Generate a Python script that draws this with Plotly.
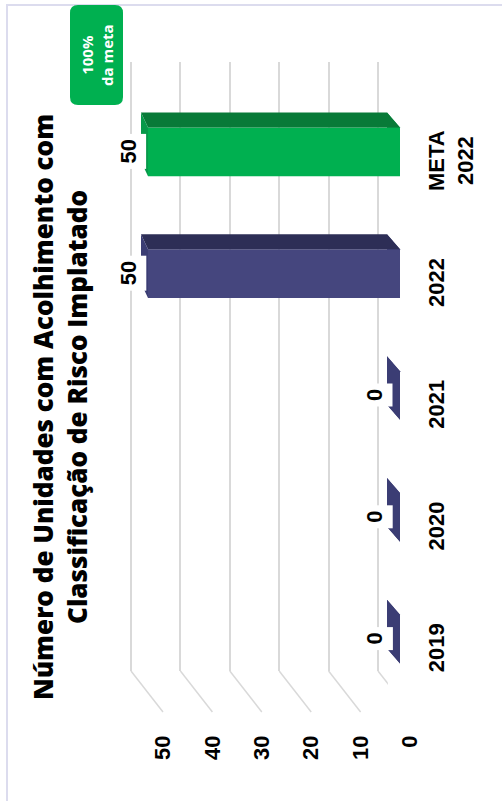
import plotly.graph_objects as go

# ---- data -------------------------------------------------------------
categories = ["2019", "2020", "2021", "2022", "META<br>2022"]
values = [0, 0, 0, 50, 50]
value_ticks = [0, 10, 20, 30, 40, 50]
title_lines = ["Número de Unidades com Acolhimento com",
               "Classificação de Risco Implatado"]
badge_lines = ["100%", "da meta"]

# ---- styling ----------------------------------------------------------
NAVY = {"front": "#45467E", "top": "#2D2E56", "cap": "#3B3D74"}
GREEN = {"front": "#00B050", "top": "#087A38", "cap": "#07994A"}
bar_styles = [NAVY, NAVY, NAVY, NAVY, GREEN]

W, H = 502, 801
NUM_FONT = "Liberation Sans"
TITLE_FONT = "Open Sans"
GRID = "#D9D9D9"


def fx(px):
    return px / W


def fy(py):
    return 1 - py / H


# value range shared by the wall and the bars (reversed: 0 on the right)
V_HI, V_LO = 55, -2

# back wall scale (pixels): zero position and pixels per unit
WALL_ZERO, WALL_PPU = 378, 4.94
WALL_TOP, WALL_BOTTOM = 62, 671
# bar front faces
BAR_ZERO, BAR_PPU = 400, 5.04
BAR_TOP, BAR_BOTTOM = 91, 700
# bar back faces (oblique depth)
BACK_ZERO, BACK_PPU = 387, 4.92
DEPTH_UP_PX = 15
# floor depth (back wall -> front edge)
FLOOR_DX, FLOOR_DY = 32, 41

row_px = (BAR_BOTTOM - BAR_TOP) / len(categories)
depth_dy = DEPTH_UP_PX / row_px
half_w = 0.2


def back_u(v):
    """Bar back-face position expressed in front-face data units."""
    return (BAR_ZERO - (BACK_ZERO - BACK_PPU * v)) / BAR_PPU


idx = list(range(len(categories)))

fig = go.Figure()

# back wall subplot carries the grid and the axis labels
fig.add_trace(go.Scatter(x=[None], y=[None], xaxis="x", yaxis="y",
                         showlegend=False, hoverinfo="skip"))

# front faces of the bars
fig.add_trace(go.Bar(
    x=values, y=idx, orientation="h", xaxis="x2", yaxis="y2",
    width=2 * half_w,
    marker=dict(color=[s["front"] for s in bar_styles], line=dict(width=0)),
    hoverinfo="skip", showlegend=False,
))


def poly(pts):
    return "M " + " L ".join(f"{x},{y}" for x, y in pts) + " Z"


shapes = []
for i, (v, st) in enumerate(zip(values, bar_styles)):
    yb, yt = i - half_w, i + half_w
    # end face at zero (hidden by the front face unless the bar is empty)
    shapes.append(dict(type="path", xref="x2", yref="y2", layer="below",
                       path=poly([(0, yb), (0, yt), (back_u(0), yt + depth_dy),
                                  (back_u(0), yb + depth_dy)]),
                       fillcolor=st["cap"], line=dict(width=0)))
    # top face
    shapes.append(dict(type="path", xref="x2", yref="y2", layer="above",
                       path=poly([(v, yt), (0, yt), (back_u(0), yt + depth_dy),
                                  (back_u(v), yt + depth_dy)]),
                       fillcolor=st["top"], line=dict(width=0)))
    # end face at the value
    shapes.append(dict(type="path", xref="x2", yref="y2", layer="above",
                       path=poly([(v, yb), (v, yt), (back_u(v), yt + depth_dy),
                                  (back_u(v), yb + depth_dy)]),
                       fillcolor=st["cap"], line=dict(width=0)))

# floor lines running from the wall to the front edge
for t in value_ticks:
    shapes.append(dict(type="line", xref="x", yref="paper", layer="below",
                       x0=t, y0=fy(WALL_BOTTOM),
                       x1=t - FLOOR_DX / WALL_PPU, y1=fy(WALL_BOTTOM + FLOOR_DY),
                       line=dict(color=GRID, width=1.5)))

# frame
FRAME = "#DCDCEE"
shapes.append(dict(type="line", xref="paper", yref="paper", x0=fx(7), x1=fx(7),
                   y0=fy(4), y1=0, line=dict(color=FRAME, width=2)))
shapes.append(dict(type="line", xref="paper", yref="paper", x0=fx(6), x1=1,
                   y0=fy(5), y1=fy(5), line=dict(color=FRAME, width=2)))

# badge behind "100% da meta"
bx0, bx1, by0, by1, r = 70, 123, 5, 105, 8
badge_path = (
    f"M {fx(bx0 + r)},{fy(by0)} L {fx(bx1 - r)},{fy(by0)} "
    f"Q {fx(bx1)},{fy(by0)} {fx(bx1)},{fy(by0 + r)} "
    f"L {fx(bx1)},{fy(by1 - r)} Q {fx(bx1)},{fy(by1)} {fx(bx1 - r)},{fy(by1)} "
    f"L {fx(bx0 + r)},{fy(by1)} Q {fx(bx0)},{fy(by1)} {fx(bx0)},{fy(by1 - r)} "
    f"L {fx(bx0)},{fy(by0 + r)} Q {fx(bx0)},{fy(by0)} {fx(bx0 + r)},{fy(by0)} Z"
)
shapes.append(dict(type="path", xref="paper", yref="paper", layer="above",
                   path=badge_path, fillcolor="#00B050", line=dict(width=0)))

annotations = []
# value labels at the end of each bar
for i, v in enumerate(values):
    annotations.append(dict(
        x=back_u(v), y=i, xref="x2", yref="y2", xanchor="right", yanchor="middle",
        xshift=6, text=str(v), textangle=-90, showarrow=False,
        bgcolor="white", borderpad=5,
        font=dict(family=NUM_FONT, size=22, color="black", weight="bold"),
    ))

# chart title
annotations.append(dict(
    x=fx(60), y=fy(407), xref="paper", yref="paper",
    xanchor="center", yanchor="middle", textangle=-90, showarrow=False,
    text="<br>".join(title_lines),
    font=dict(family=TITLE_FONT, size=26, color="black", weight=800),
))

# badge text
annotations.append(dict(
    x=fx(97), y=fy(55), xref="paper", yref="paper",
    xanchor="center", yanchor="middle", textangle=-90, showarrow=False,
    text="<br>".join(badge_lines),
    font=dict(family="Open Sans", size=15, color="white", weight=700),
))

fig.update_layout(
    width=W, height=H, autosize=False,
    margin=dict(l=0, r=0, t=0, b=0, autoexpand=False),
    paper_bgcolor="white", plot_bgcolor="rgba(0,0,0,0)",
    showlegend=False,
    xaxis=dict(
        range=[V_HI, V_LO], automargin=False,
        domain=[fx(WALL_ZERO - V_HI * WALL_PPU), fx(WALL_ZERO - V_LO * WALL_PPU)],
        tickmode="array", tickvals=value_ticks,
        showgrid=True, gridcolor=GRID, gridwidth=2,
        zeroline=False, showline=False, ticks="",
        tickangle=-90, ticklabelshift=-FLOOR_DX,
        tickfont=dict(family=NUM_FONT, size=22, color="black", weight="bold"),
        anchor="free", position=fy(730), side="bottom",
    ),
    yaxis=dict(
        range=[-0.5, len(categories) - 0.5], automargin=False,
        domain=[fy(WALL_BOTTOM), fy(WALL_TOP)],
        tickmode="array", tickvals=idx, ticktext=categories,
        showgrid=False, zeroline=False, showline=False, ticks="",
        tickangle=-90, ticklabelshift=FLOOR_DY,
        tickfont=dict(family=NUM_FONT, size=22, color="black", weight="bold"),
        anchor="free", position=fx(421), side="right",
    ),
    xaxis2=dict(
        range=[V_HI, V_LO], automargin=False,
        domain=[fx(BAR_ZERO - V_HI * BAR_PPU), fx(BAR_ZERO - V_LO * BAR_PPU)],
        visible=False, anchor="y2",
    ),
    yaxis2=dict(
        range=[-0.5, len(categories) - 0.5], automargin=False,
        domain=[fy(BAR_BOTTOM), fy(BAR_TOP)],
        visible=False, anchor="x2",
    ),
    shapes=shapes,
    annotations=annotations,
)

# fixed-size page: no body margin, no scrollbars
fig.write_html(
    "out.html",
    config={"responsive": False},
    post_script="document.body.style.margin = '0'; document.body.style.overflow = 'hidden';",
)
